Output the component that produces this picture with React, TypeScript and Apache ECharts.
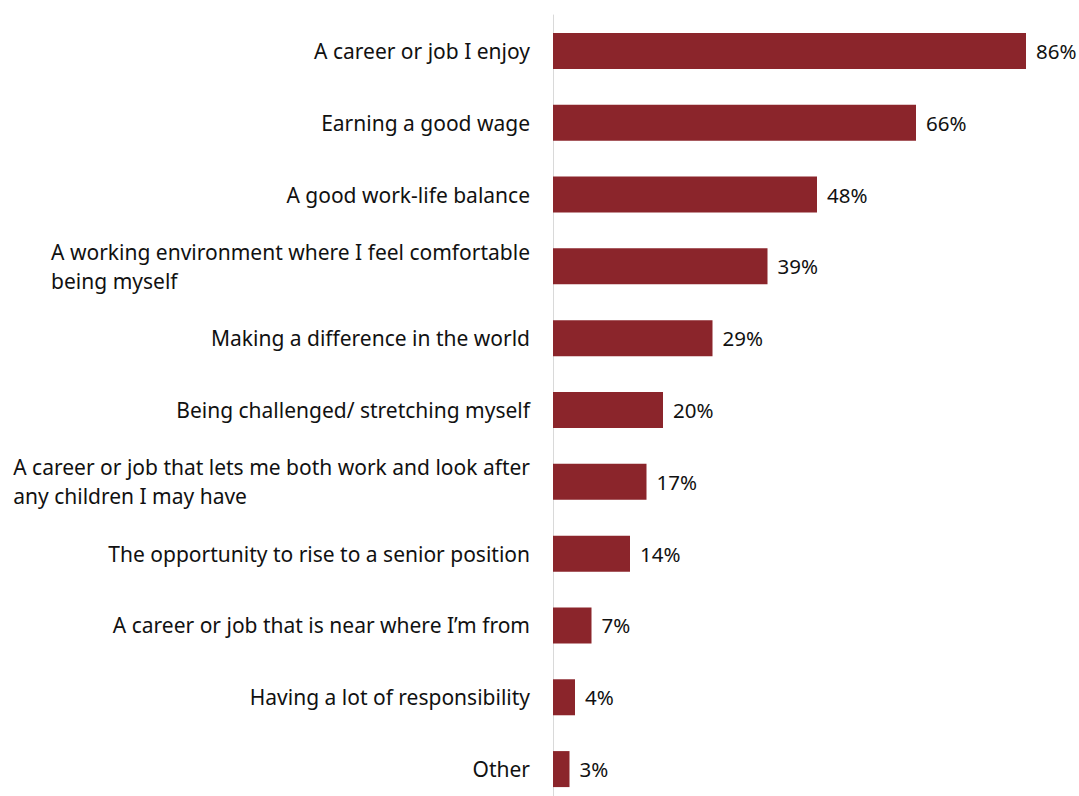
import React, { useEffect, useRef } from "react";
import * as echarts from "echarts";

const categories: string[] = [
  "A career or job I enjoy",
  "Earning a good wage",
  "A good work-life balance",
  "A working environment where I feel comfortable\nbeing myself",
  "Making a difference in the world",
  "Being challenged/ stretching myself",
  "A career or job that lets me both work and look after\nany children I may have",
  "The opportunity to rise to a senior position",
  "A career or job that is near where I\u2019m from",
  "Having a lot of responsibility",
  "Other",
];

const values: number[] = [86, 66, 48, 39, 29, 20, 17, 14, 7, 4, 3];

const FONT = "'Noto Sans', 'Open Sans', sans-serif";

export default function App() {
  const ref = useRef<HTMLDivElement>(null);
  useEffect(() => {
    if (!ref.current) return;
    const chart = echarts.init(ref.current, undefined, { renderer: "svg" });
    chart.setOption({
      animation: false,
      backgroundColor: "#ffffff",
      grid: { left: 553, right: 31, top: 15, bottom: 0, containLabel: false },
      xAxis: {
        type: "value",
        min: 0,
        max: 90,
        show: false,
      },
      yAxis: {
        type: "category",
        inverse: true,
        data: categories,
        axisLine: { show: true, lineStyle: { color: "#d9d9d9", width: 1 } },
        axisTick: { show: false },
        splitLine: { show: false },
        axisLabel: {
          margin: 23,
          fontSize: 21,
          fontFamily: FONT,
          color: "#111111",
          lineHeight: 29,
          formatter: (v: string) =>
            v
              .split("\n")
              .map((l) => "{a|" + l + "}")
              .join("\n"),
          rich: {
            a: {
              align: "left",
              fontSize: 21,
              fontFamily: FONT,
              color: "#111111",
              lineHeight: 29,
            },
          },
        },
      },
      series: [
        {
          type: "bar",
          data: values,
          barWidth: 36,
          itemStyle: { color: "#8b252b" },
          label: {
            show: true,
            position: "right",
            distance: 10,
            formatter: "{c}%",
            fontSize: 20.5,
            fontFamily: FONT,
            color: "#111111",
          },
        },
      ],
    });
    return () => chart.dispose();
  }, []);
  return (
    <div
      ref={ref}
      style={{ position: "fixed", left: 0, top: 0, width: 1079, height: 805 }}
    />
  );
}
